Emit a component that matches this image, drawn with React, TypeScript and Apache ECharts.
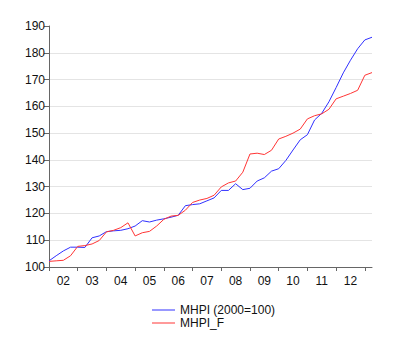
import React, { useEffect, useRef } from "react";
import * as echarts from "echarts";

const quarters: string[] = [];
for (let y = 2002; y <= 2013; y++) {
  for (let q = 1; q <= 4; q++) {
    if (quarters.length < 46) quarters.push(`${y}Q${q}`);
  }
}

const mhpi = [
  102.3, 104.2, 106.0, 107.4, 107.4, 107.3, 110.9, 111.6, 113.2, 113.5,
  113.7, 114.3, 115.3, 117.3, 116.8, 117.5, 118.0, 118.6, 119.3, 122.9,
  123.3, 123.6, 124.7, 125.8, 128.6, 128.6, 131.1, 128.9, 129.4, 132.1,
  133.3, 135.8, 136.7, 139.8, 143.7, 147.5, 149.4, 154.9, 157.4, 161.7,
  167.0, 172.5, 177.2, 181.5, 184.8, 185.8,
];

const mhpiF = [
  102.1, 102.3, 102.5, 104.2, 107.7, 108.0, 108.6, 109.9, 113.1, 113.7,
  114.7, 116.5, 111.6, 112.8, 113.3, 115.3, 117.8, 119.0, 119.3, 121.2,
  124.1, 125.0, 125.6, 126.8, 129.9, 131.4, 132.1, 135.4, 142.2, 142.5,
  142.0, 143.6, 147.8, 148.8, 150.0, 151.5, 155.3, 156.5, 157.2, 158.9,
  162.8, 163.8, 164.8, 166.0, 171.6, 172.6,
];

const seriesNames = ["MHPI (2000=100)", "MHPI_F"];
const FONT = "'Liberation Sans', Arial, sans-serif";
const BLUE = "#3030ff";
const RED = "#ff3535";
const LINE_ICON = "path://M0,0 L23,0 L23,1 L0,1 Z";

export default function App() {
  const ref = useRef<HTMLDivElement>(null);
  useEffect(() => {
    if (!ref.current) return;
    const chart = echarts.init(ref.current, null, { renderer: "svg" });
    chart.setOption({
      animation: false,
      textStyle: { fontFamily: FONT },
      grid: { left: 49, top: 26, right: 28, bottom: 88, containLabel: false },
      xAxis: {
        type: "category",
        data: quarters,
        boundaryGap: false,
        axisLine: { lineStyle: { color: "#666", width: 1 } },
        axisTick: {
          interval: (i: number) => i % 4 === 0,
          length: 4,
          lineStyle: { color: "#666" },
        },
        axisLabel: {
          interval: (i: number) => i % 4 === 2,
          formatter: (v: string) => v.slice(2, 4),
          color: "#111",
          fontSize: 12,
          fontFamily: FONT,
          margin: 8,
        },
        splitLine: { show: false },
      },
      yAxis: {
        type: "value",
        min: 100,
        max: 190,
        interval: 10,
        axisLine: { show: true, lineStyle: { color: "#666", width: 1 } },
        axisTick: { show: true, length: 5, lineStyle: { color: "#666" } },
        axisLabel: { color: "#111", fontSize: 12, fontFamily: FONT, margin: 4 },
        splitLine: {
          show: true,
          showMinLine: false,
          showMaxLine: false,
          lineStyle: { color: "#e4e4e4", width: 1 },
        },
      },
      legend: {
        orient: "vertical",
        left: 152,
        top: 304,
        padding: 0,
        itemWidth: 23,
        itemHeight: 11,
        itemGap: 1,
        symbolKeepAspect: true,
        textStyle: { color: "#111", fontSize: 12, lineHeight: 11, fontFamily: FONT },
        data: [
          { name: seriesNames[0], icon: LINE_ICON },
          { name: seriesNames[1], icon: LINE_ICON },
        ],
      },
      series: [
        {
          name: seriesNames[0],
          type: "line",
          data: mhpi,
          symbol: "none",
          lineStyle: { color: BLUE, width: 1 },
          itemStyle: { color: BLUE },
        },
        {
          name: seriesNames[1],
          type: "line",
          data: mhpiF,
          symbol: "none",
          lineStyle: { color: RED, width: 1 },
          itemStyle: { color: RED },
        },
      ],
    });
    return () => chart.dispose();
  }, []);
  return <div ref={ref} style={{ width: 400, height: 355, position: "absolute", left: 0, top: 0 }} />;
}
